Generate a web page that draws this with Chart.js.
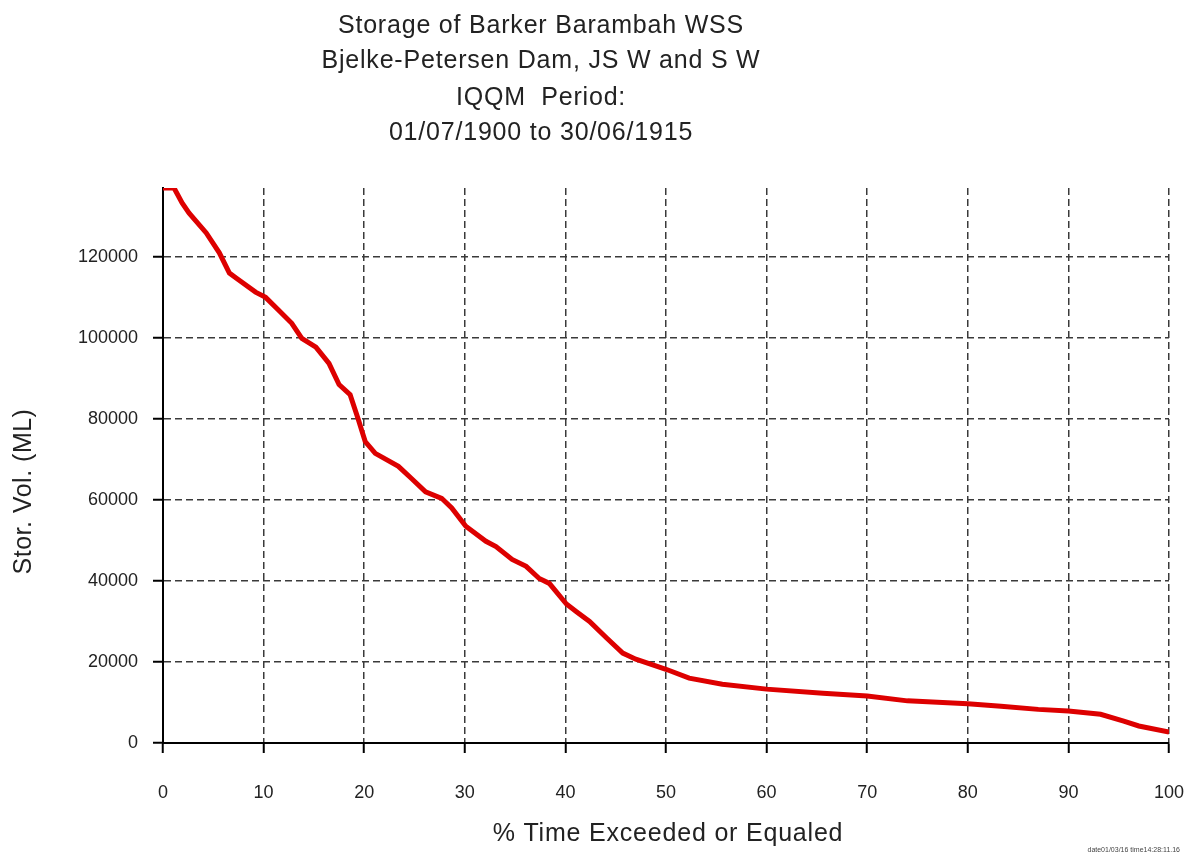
<!DOCTYPE html>
<html>
<head>
<meta charset="utf-8">
<title>Storage of Barker Barambah WSS</title>
<script src="https://cdn.jsdelivr.net/npm/chart.js@4.4.1/dist/chart.umd.min.js"></script>
<style>
  html, body { margin: 0; padding: 0; background: #fff; }
</style>
</head>
<body>
<canvas id="storageChart" width="1194" height="857"></canvas>
<script>
// Storage duration curve - Bjelke-Petersen Dam (IQQM run)

// % of time exceeded or equaled
const exceedPct = [
  0, 1.1, 1.9, 2.6, 4.3, 5.6, 6.6, 7.3, 9.2, 10.2,
  11.5, 12.8, 13.8, 15.2, 16.5, 17.5, 18.6, 19.4, 20.1, 21.1,
  23.4, 24.7, 26.1, 27.7, 28.7, 30.1, 32.1, 33.1, 34.7, 36.1,
  37.4, 38.4, 40.1, 41.1, 42.4, 44.1, 45.7, 47.0, 50.0, 52.3,
  55.6, 60.0, 65.6, 70.0, 74.0, 80.0, 83.3, 87.0, 90.0, 93.2,
  95.5, 97.0, 100
];

// storage volume (ML)
const storageML = [
  137000, 137000, 133300, 130800, 125900, 121000, 116000, 114700, 111300, 110000,
  106800, 103600, 99900, 97700, 93700, 88500, 86000, 80000, 74400, 71500,
  68300, 65300, 62000, 60400, 58000, 53500, 49800, 48500, 45300, 43600,
  40600, 39400, 34300, 32400, 30000, 25900, 22200, 20700, 18200, 16000,
  14500, 13300, 12300, 11600, 10400, 9700, 9100, 8300, 7900, 7100,
  5400, 4200, 2700
];

const xTicks = [0, 10, 20, 30, 40, 50, 60, 70, 80, 90, 100];
const yTicks = [0, 20000, 40000, 60000, 80000, 100000, 120000];

const titleLines = [
  'Storage of Barker Barambah WSS',
  'Bjelke-Petersen Dam, JS W and S W',
  'IQQM  Period:',
  '01/07/1900 to 30/06/1915'
];
const xTitle = '% Time Exceeded or Equaled';
const yTitle = 'Stor. Vol. (ML)';
const stampText = 'date01/03/16 time14:28:11.16';

const FONT = '"Liberation Sans", Arial, sans-serif';
const TEXT_COLOR = '#222';

// Titles are drawn by hand so they can sit off-centre like the original
const chartText = {
  id: 'chartText',
  afterDraw(chart) {
    const ctx = chart.ctx;
    const area = chart.chartArea;
    ctx.save();
    ctx.fillStyle = TEXT_COLOR;
    ctx.letterSpacing = '0.8px';
    ctx.font = '25px ' + FONT;
    ctx.textAlign = 'center';
    ctx.textBaseline = 'alphabetic';

    const baselines = [33, 68, 105, 140];
    titleLines.forEach((line, i) => ctx.fillText(line, 541, baselines[i]));

    ctx.fillText(xTitle, (area.left + area.right) / 2 + 2, 841);

    ctx.save();
    ctx.letterSpacing = '0.5px';
    ctx.translate(31, (area.top + area.bottom) / 2 + 26);
    ctx.rotate(-Math.PI / 2);
    ctx.fillText(yTitle, 0, 0);
    ctx.restore();

    ctx.letterSpacing = '0px';
    ctx.font = '7px ' + FONT;
    ctx.textAlign = 'right';
    ctx.fillStyle = '#444';
    ctx.fillText(stampText, 1180, 852);
    ctx.restore();
  }
};

const gridStyle = {
  color: '#3a3a3a',
  lineWidth: 1.5,
  drawTicks: true,
  tickLength: 10,
  tickColor: '#000',
  tickWidth: 2,
  tickBorderDash: []
};

const ctx = document.getElementById('storageChart').getContext('2d');

new Chart(ctx, {
  type: 'line',
  data: {
    datasets: [{
      label: 'Storage',
      data: exceedPct.map((p, i) => ({ x: p, y: storageML[i] })),
      borderColor: '#dd0000',
      borderWidth: 5,
      pointRadius: 0,
      tension: 0,
      fill: false
    }]
  },
  options: {
    responsive: false,
    animation: false,
    layout: {
      padding: { top: 188, right: 25, left: 0, bottom: 0 }
    },
    plugins: {
      legend: { display: false },
      title: { display: false },
      tooltip: { enabled: false }
    },
    scales: {
      x: {
        type: 'linear',
        min: 0,
        max: 100,
        afterBuildTicks: scale => { scale.ticks = xTicks.map(v => ({ value: v })); },
        afterFit: scale => {
          scale.height = 114;
          scale.paddingLeft = 0;
          scale.paddingRight = 0;
        },
        border: { display: true, color: '#000', width: 2, dash: [7, 4] },
        grid: gridStyle,
        ticks: {
          color: TEXT_COLOR,
          padding: 29,
          maxRotation: 0,
          font: { family: FONT, size: 18 }
        }
      },
      y: {
        type: 'linear',
        min: 0,
        max: 137000,
        afterBuildTicks: scale => { scale.ticks = yTicks.map(v => ({ value: v })); },
        afterFit: scale => {
          scale.width = 163;
          scale.paddingTop = 0;
          scale.paddingBottom = 0;
        },
        border: { display: true, color: '#000', width: 2, dash: [7, 4] },
        grid: gridStyle,
        ticks: {
          color: TEXT_COLOR,
          padding: 15,
          font: { family: FONT, size: 18 },
          callback: value => String(value)
        }
      }
    }
  },
  plugins: [chartText]
});
</script>
</body>
</html>
